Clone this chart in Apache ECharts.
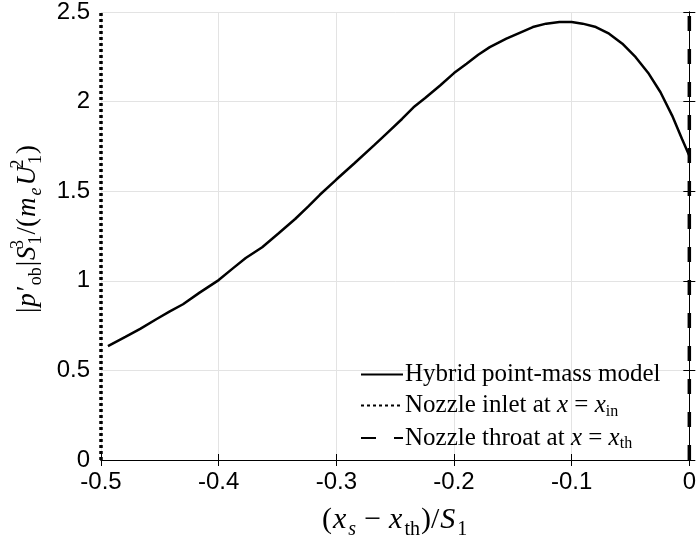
<!DOCTYPE html>
<html>
<head>
<meta charset="utf-8">
<script src="https://cdn.jsdelivr.net/npm/echarts@6/dist/echarts.min.js"></script>
<style>html,body{margin:0;padding:0;background:#fff;}#c{width:699px;height:545px;}</style>
</head>
<body>
<div id="c"></div>
<script>
// Curve data
var xValues = [-0.4941, -0.4793, -0.4667, -0.4527, -0.4415, -0.4303, -0.4162, -0.4, -0.3882, -0.377, -0.363, -0.349, -0.335, -0.3238, -0.314, -0.3, -0.2846, -0.2678, -0.2571, -0.2442, -0.2344, -0.2245, -0.2118, -0.2, -0.1893, -0.1794, -0.1696, -0.1555, -0.1442, -0.133, -0.1217, -0.1104, -0.1, -0.0907, -0.0794, -0.0682, -0.0569, -0.0456, -0.0344, -0.0245, -0.0146, -0.0062, 0];
var yValues = [0.636, 0.6875, 0.732, 0.787, 0.829, 0.869, 0.934, 1.004, 1.068, 1.127, 1.1875, 1.265, 1.345, 1.415, 1.48, 1.565, 1.656, 1.757, 1.823, 1.903, 1.968, 2.02, 2.09, 2.159, 2.211, 2.261, 2.304, 2.351, 2.384, 2.416, 2.435, 2.444, 2.444, 2.435, 2.416, 2.379, 2.323, 2.248, 2.155, 2.052, 1.922, 1.791, 1.698];
var inletX = -0.5;
var throatX = 0;
var yRange = [0, 2.5];
var xTicks = [-0.5, -0.4, -0.3, -0.2, -0.1, 0];
var yTicks = [0, 0.5, 1, 1.5, 2, 2.5];
var seriesNames = ['Hybrid point-mass model', 'Nozzle inlet', 'Nozzle throat'];

var curve = xValues.map(function (x, i) { return [x, yValues[i]]; });
var inletLine = yRange.map(function (y) { return [inletX, y]; });
var throatLine = yRange.map(function (y) { return [throatX, y]; });

var serif = 'Liberation Serif';
var sans = 'Liberation Sans';
function mathStyles(fs, sfs) {
  var lh = Math.round(fs * 1.33), slh = Math.round(sfs * 0.95);
  return {
    a: {fontFamily: serif, fontSize: fs, color: '#000', lineHeight: lh},
    a0: {fontFamily: serif, fontSize: fs, color: '#000', lineHeight: lh, padding: [0, 0, 0, 14]},
    op: {fontFamily: serif, fontSize: fs, color: '#000', lineHeight: lh, padding: [0, 7, 0, 7]},
    i: {fontFamily: serif, fontSize: fs, fontStyle: 'italic', color: '#000', lineHeight: lh, padding: [0, 2, 0, 1]},
    pr: {fontFamily: serif, fontSize: fs, color: '#000', lineHeight: lh},
    sub: {fontFamily: serif, fontSize: sfs, color: '#000', verticalAlign: 'bottom', lineHeight: slh, padding: [0, 1, 0, 0]},
    subi: {fontFamily: serif, fontSize: sfs, fontStyle: 'italic', color: '#000', verticalAlign: 'bottom', lineHeight: slh, padding: [0, 1, 0, 0]},
    sup: {fontFamily: serif, fontSize: sfs, color: '#000', verticalAlign: 'top', lineHeight: slh, padding: [0, 1, 0, 0]},
    supz: {fontFamily: serif, fontSize: sfs, color: '#000', verticalAlign: 'top', lineHeight: slh, width: 0}
  };
}
var legendRich = {
  a: {fontFamily: serif, fontSize: 25, color: '#000', lineHeight: 28},
  i: {fontFamily: serif, fontSize: 25, fontStyle: 'italic', color: '#000', lineHeight: 28},
  sub: {fontFamily: serif, fontSize: 16, color: '#000', verticalAlign: 'bottom', lineHeight: 13}
};
var legendText = {};
legendText[seriesNames[0]] = '{a|Hybrid point-mass model}';
legendText[seriesNames[1]] = '{a|Nozzle inlet at }{i|x}{a| = }{i|x}{sub|in}';
legendText[seriesNames[2]] = '{a|Nozzle throat at }{i|x}{a| = }{i|x}{sub|th}';

var chart = echarts.init(document.getElementById('c'), null, {renderer: 'canvas'});
chart.setOption({
  animation: false,
  backgroundColor: '#fff',
  grid: {left: 101, right: 5, top: 12, bottom: 83, containLabel: false},
  legend: {
    orient: 'vertical', left: 355, top: 357,
    itemWidth: 42, itemHeight: 14, itemGap: 6,
    data: seriesNames,
    formatter: function (n) { return legendText[n]; },
    itemStyle: {opacity: 0, borderWidth: 0},
    textStyle: {rich: legendRich, padding: [0, 0, 0, -3]},
    backgroundColor: 'transparent'
  },
  xAxis: [{
    type: 'value', min: -0.5, max: 0, interval: 0.1, position: 'bottom',
    axisLine: {lineStyle: {color: '#000', width: 1}},
    axisTick: {inside: true, length: 6, lineStyle: {color: '#000'}},
    axisLabel: {fontFamily: sans, fontSize: 24, color: '#000', margin: 10,
      formatter: function (v) { return String(Math.round(v * 10) / 10); }},
    splitLine: {show: true, lineStyle: {color: '#e3e3e3', width: 1}},
    name: '{a|(}{i|x}{subi|s}{op|−}{i|x}{sub|th}{a|)/}{i|S}{sub|1}',
    nameLocation: 'middle', nameGap: 40,
    nameTextStyle: {rich: mathStyles(30, 20)}
  }, {
    type: 'value', min: -0.5, max: 0, interval: 0.1, position: 'top',
    axisLine: {lineStyle: {color: '#000', width: 1}},
    axisTick: {inside: true, length: 6, lineStyle: {color: '#000'}},
    axisLabel: {show: false}, splitLine: {show: false}
  }],
  yAxis: [{
    type: 'value', min: 0, max: 2.5, interval: 0.5, position: 'left',
    axisLine: {show: true, lineStyle: {color: '#000', width: 1}},
    axisTick: {show: true, inside: true, length: 6, lineStyle: {color: '#000'}},
    axisLabel: {fontFamily: sans, fontSize: 24, color: '#000', margin: 11},
    splitLine: {show: true, lineStyle: {color: '#e3e3e3', width: 1}},
    name: '{a0||}{i|p}{pr|′}{sub|ob}{a||}{i|S}{supz|3}{sub|1}{a|/(}{i|m}{subi|e}{i|U}{supz|2}{sub|1}{a|)}',
    nameLocation: 'middle', nameGap: 54, nameRotate: 90,
    nameTextStyle: {rich: mathStyles(27, 18)}
  }, {
    type: 'value', min: 0, max: 2.5, interval: 0.5, position: 'right',
    axisLine: {show: true, lineStyle: {color: '#000', width: 1}},
    axisTick: {show: true, inside: true, length: 6, lineStyle: {color: '#000'}},
    axisLabel: {show: false}, splitLine: {show: false}
  }],
  series: [{
    name: seriesNames[0], type: 'line', data: curve, symbol: 'none', smooth: false,
    lineStyle: {color: '#000', width: 2.5}, itemStyle: {color: '#000'}, z: 3
  }, {
    name: seriesNames[1], type: 'line', data: inletLine, symbol: 'none', clip: false,
    lineStyle: {color: '#000', width: 3.5, type: [3, 3]}, itemStyle: {color: '#000'}, z: 4
  }, {
    name: seriesNames[2], type: 'line', data: throatLine, symbol: 'none', clip: false,
    lineStyle: {color: '#000', width: 3.5, type: [15, 18]}, itemStyle: {color: '#000'}, z: 4
  }]
});
</script>
</body>
</html>
